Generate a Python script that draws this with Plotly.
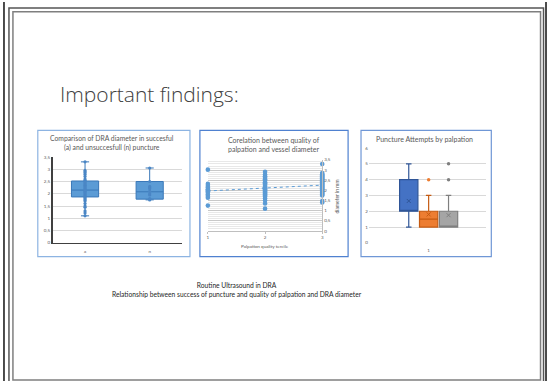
import numpy as np
import plotly.graph_objects as go

W, H = 549, 384


def px(x):
    return x / W


def py(y):
    return 1 - y / H


FONT = "Lato"
TXT = "#595959"

# --- Chart 1: DRA diameter, successful (a) vs unsuccessful (n) puncture ---
groups_1 = ["a", "n"]
q1_1 = [1.87, 1.78]
med_1 = [2.15, 2.08]
q3_1 = [2.52, 2.50]
lo_1 = [1.10, 1.75]
hi_1 = [3.30, 3.05]
pts_a = [1.10, 1.22, 1.30, 1.45, 1.50, 1.60, 1.70, 1.75, 1.80, 1.85, 1.90, 1.95,
         2.00, 2.05, 2.10, 2.15, 2.20, 2.25, 2.30, 2.35, 2.40, 2.45, 2.50, 2.55,
         2.60, 2.70, 2.78, 2.85, 2.90, 2.95, 3.30]
pts_n = [1.75, 1.80, 1.95, 2.00, 2.10, 2.20, 2.25, 2.30, 2.50, 3.05]

# --- Chart 2: palpation quality tercile vs vessel diameter ---
terc_1 = [3.02, 2.32, 2.22, 2.14, 2.06, 2.00, 1.94, 1.88, 1.80, 1.72, 1.64, 1.25]
terc_2 = [2.92, 2.78, 2.70, 2.62, 2.55, 2.48, 2.40, 2.35, 2.28, 2.22, 2.15, 2.10,
          2.05, 2.00, 1.95, 1.90, 1.85, 1.80, 1.75, 1.68, 1.60, 1.50, 1.35, 1.10]
terc_3 = [3.30, 2.85, 2.80, 2.75, 2.70, 2.65, 2.60, 2.55, 2.50, 2.45, 2.40, 2.35,
          2.30, 2.25, 2.20, 2.15, 2.10, 2.05, 2.00, 1.95, 1.90, 1.85, 1.80, 1.75,
          1.48, 1.40]

# --- Chart 3: puncture attempts by palpation tercile ---
terciles = ["T1", "T2", "T3"]
att_colors = ["#4472C4", "#ED7D31", "#A5A5A5"]
att_lines = ["#2F5597", "#C55A11", "#7F7F7F"]
att_q1 = [2, 1, 1]
att_med = [2, 1.5, 1]
att_q3 = [4, 2, 2]
att_lo = [1, 1, 1]
att_hi = [5, 3, 3]
att_mean = [2.65, 1.8, 1.75]
att_out = [[], [4], [4, 5]]

fig = go.Figure()

# Chart 1 boxes and inner points
fig.add_trace(go.Box(
    x=groups_1, q1=q1_1, median=med_1, q3=q3_1,
    lowerfence=lo_1, upperfence=hi_1,
    fillcolor="#5B9BD5", line=dict(color="#3A78B8", width=1),
    width=0.42, whiskerwidth=0.3, xaxis="x", yaxis="y", showlegend=False,
))
pt_x = ["a"] * len(pts_a) + ["n"] * len(pts_n)
fig.add_trace(go.Scatter(
    x=pt_x, y=pts_a + pts_n, mode="markers",
    marker=dict(size=3.2, color="#4A86C5"),
    xaxis="x", yaxis="y", showlegend=False, cliponaxis=False,
))

# Chart 2 scatter with linear trend
sx = [1] * len(terc_1) + [2] * len(terc_2) + [3] * len(terc_3)
sy = terc_1 + terc_2 + terc_3
fig.add_trace(go.Scatter(
    x=sx, y=sy, mode="markers", marker=dict(size=4.6, color="#5B9BD5"),
    xaxis="x2", yaxis="y2", showlegend=False, cliponaxis=False,
))
slope, icpt = np.polyfit(sx, sy, 1)
tx = np.array([1, 3])
fig.add_trace(go.Scatter(
    x=tx, y=slope * tx + icpt, mode="lines",
    line=dict(color="#5B9BD5", width=1, dash="dot"),
    xaxis="x2", yaxis="y2", showlegend=False,
))

# Chart 3 boxes, means and outliers
for i, t in enumerate(terciles):
    fig.add_trace(go.Box(
        x=[t], q1=[att_q1[i]], median=[att_med[i]], q3=[att_q3[i]],
        lowerfence=[att_lo[i]], upperfence=[att_hi[i]],
        fillcolor=att_colors[i], line=dict(color=att_lines[i], width=1.2),
        width=0.92, whiskerwidth=0.3, xaxis="x3", yaxis="y3", showlegend=False,
    ))
    fig.add_trace(go.Scatter(
        x=[t], y=[att_mean[i]], mode="markers",
        marker=dict(symbol="x-thin", size=4, line=dict(color=att_lines[i], width=1)),
        xaxis="x3", yaxis="y3", showlegend=False,
    ))
    if att_out[i]:
        fig.add_trace(go.Scatter(
            x=[t] * len(att_out[i]), y=att_out[i], mode="markers",
            marker=dict(size=3.5, color=att_colors[i] if i != 2 else "#7F7F7F"),
            xaxis="x3", yaxis="y3", showlegend=False,
        ))

tickfont = dict(family=FONT, size=4.5, color=TXT)

fig.update_layout(
    width=W, height=H, margin=dict(l=0, r=0, t=0, b=0),
    paper_bgcolor="white", plot_bgcolor="rgba(0,0,0,0)",
    separators=", ",
    xaxis=dict(domain=[px(52), px(182)], type="category", categoryorder="array",
               categoryarray=groups_1, range=[-0.5, 1.5], showgrid=False,
               showline=True, linecolor="#404040", linewidth=1,
               tickfont=tickfont, ticks="", ticklabelstandoff=4),
    yaxis=dict(domain=[py(244), py(157)], range=[0, 3.5], dtick=0.5,
               showgrid=True, gridcolor="#D9D9D9", gridwidth=0.8,
               showline=True, linecolor="#404040", linewidth=1.5,
               zeroline=False, tickfont=tickfont, ticks=""),
    xaxis2=dict(domain=[px(208), px(323)], range=[1, 3], tickvals=[1, 2, 3],
                showgrid=False, showline=True, linecolor="#BFBFBF",
                ticks="outside", ticklen=2, tickcolor="#BFBFBF",
                tickfont=tickfont, anchor="y2", zeroline=False),
    yaxis2=dict(domain=[py(232), py(160)], range=[0, 3.5], dtick=0.5,
                side="right", anchor="x2", showgrid=True, gridcolor="#C8C8C8",
                gridwidth=0.8, showline=True, linecolor="#BFBFBF",
                minor=dict(dtick=0.1, showgrid=True, gridcolor="#E8E8E8",
                           gridwidth=0.6),
                zeroline=False, tickfont=tickfont, ticks=""),
    xaxis3=dict(domain=[px(370), px(488)], type="category", categoryorder="array",
                categoryarray=terciles, range=[-2.0, 3.9], tickmode="array",
                tickvals=["T2"], ticktext=["1"], showgrid=False, showline=False,
                tickfont=tickfont, ticks="", anchor="y3", ticklabelstandoff=4),
    yaxis3=dict(domain=[py(244), py(148)], range=[0, 6], dtick=1,
                showgrid=True, gridcolor="#D9D9D9", gridwidth=0.8,
                showline=False, zeroline=False, tickfont=tickfont, ticks="",
                anchor="x3"),
)

shapes = []
# slide frame
shapes.append(dict(type="line", xref="paper", yref="paper", x0=px(3), x1=px(3),
                   y0=0, y1=1, line=dict(color="#111111", width=1.5)))
shapes.append(dict(type="line", xref="paper", yref="paper", x0=px(548), x1=px(548),
                   y0=0, y1=1, line=dict(color="#111111", width=1.5)))
shapes.append(dict(type="path", xref="paper", yref="paper",
                   path=f"M {px(8)},0 L {px(8)},{py(6)} L {px(545.5)},{py(6)} L {px(545.5)},0",
                   line=dict(color="#555555", width=1.5)))
shapes.append(dict(type="rect", xref="paper", yref="paper",
                   x0=px(12), x1=px(542.5), y0=py(383), y1=py(10),
                   line=dict(color="#7F7F7F", width=1.5)))
# chart frames
for (x0, x1, c) in [(37, 190, "#8DB4E2"), (200, 349, "#4F81D0"), (362, 493, "#6F97D6")]:
    shapes.append(dict(type="rect", xref="paper", yref="paper",
                       x0=px(x0), x1=px(x1), y0=py(258), y1=py(130),
                       line=dict(color=c, width=1.2)))

ann = []


def label(text, x, y, size, color=TXT, angle=0):
    ann.append(dict(text=text, x=px(x), y=py(y), xref="paper", yref="paper",
                    showarrow=False, textangle=angle, xanchor="center",
                    yanchor="middle", font=dict(family=FONT, size=size, color=color)))


ann.append(dict(text="Important findings:", x=px(57), y=py(93), xref="paper",
                yref="paper", showarrow=False, xanchor="left", yanchor="middle",
                font=dict(family="Open Sans", size=21, color="#404040", weight=300)))
label("Comparison of DRA diameter in succesful<br>(a) and unsuccesfull (n) puncture",
      112, 143, 6.8)
label("Corelation between quality of<br>palpation and vessel diameter", 274, 144, 7)
label("Puncture Attempts by palpation", 426, 139, 7)
label("Palpation quality tercile", 265, 247, 4.6)
label("diameter in mm", 338, 197, 5, angle=-90)
label("Routine Ultrasound in DRA<br>Relationship between success of puncture and quality of palpation and DRA diameter",
      237, 291, 6.7, color="#262626")

fig.update_layout(shapes=shapes, annotations=ann)
fig.write_html("out.html")
